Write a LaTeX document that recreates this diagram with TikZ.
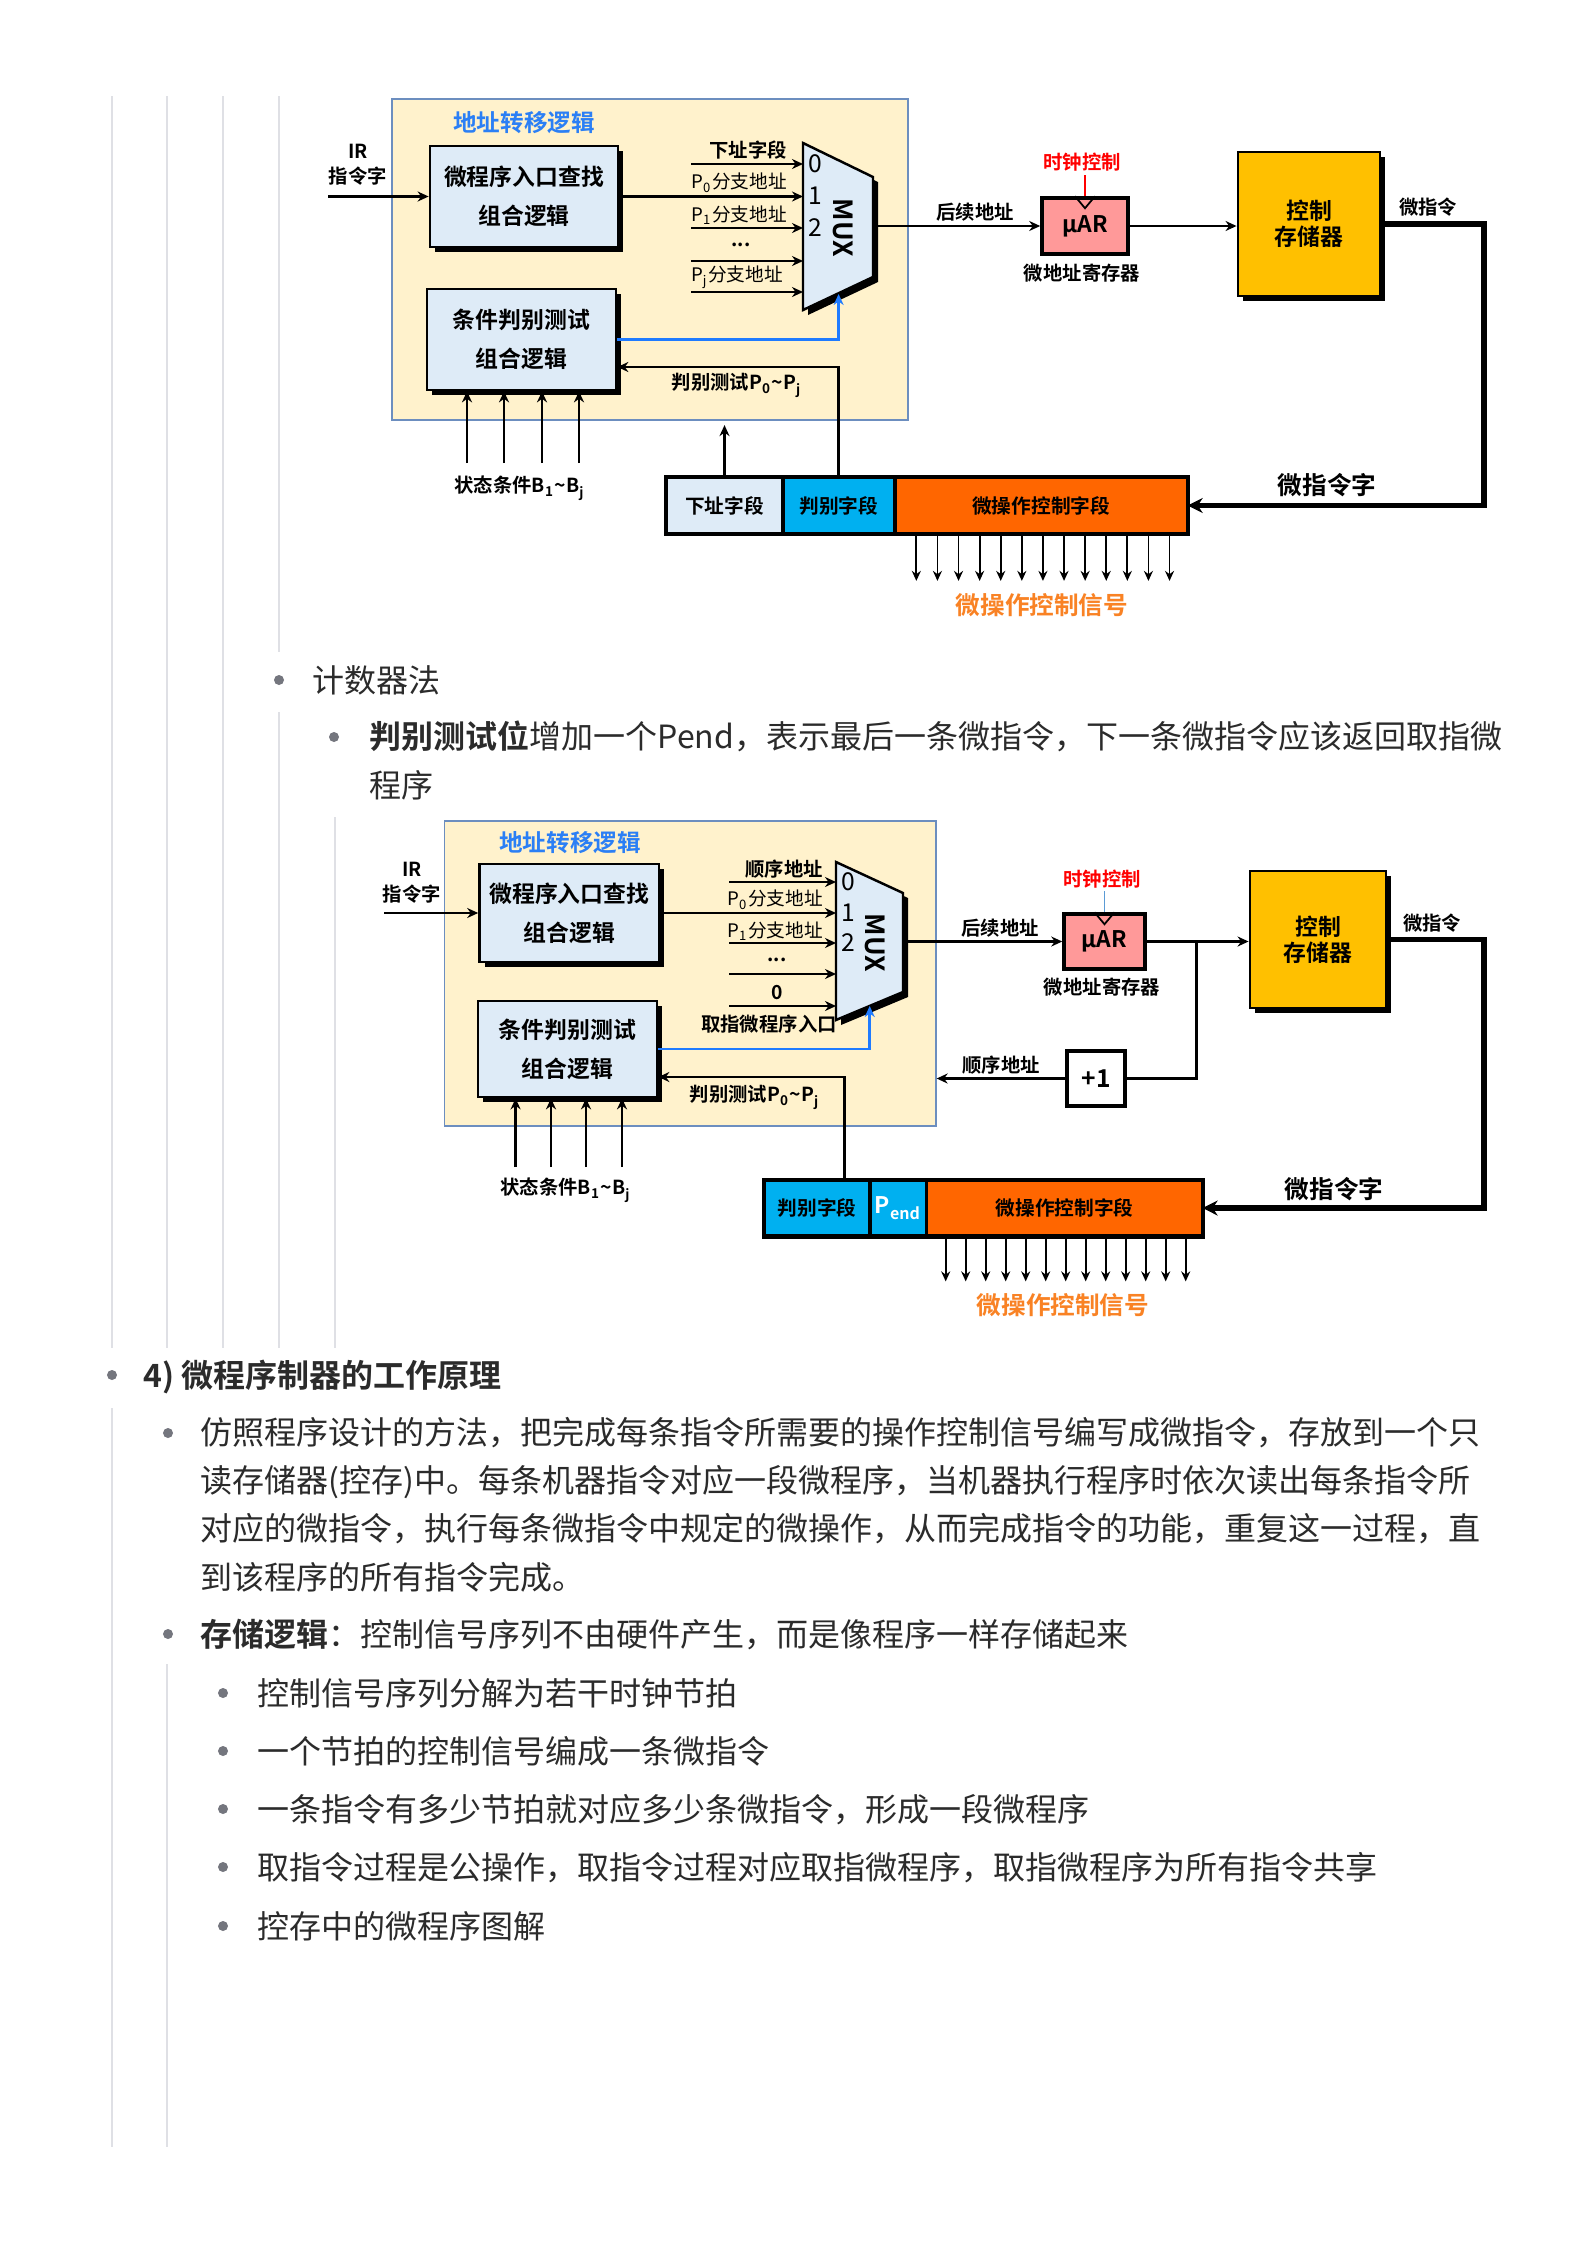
\documentclass[tikz,border=0pt]{standalone}
\usepackage{fontspec}
\setmainfont{Noto Sans CJK SC}[BoldFont={* Bold}]
\usetikzlibrary{arrows.meta,shadows}

\definecolor{addrbg}{HTML}{FFF2CC}
\definecolor{addrline}{HTML}{6C8EBF}
\definecolor{boxblue}{HTML}{DEEBF7}
\definecolor{titleblue}{HTML}{2B7FF5}
\definecolor{linkblue}{HTML}{1F7BFF}
\definecolor{clkblue}{HTML}{5B9BD5}
\definecolor{regpink}{HTML}{FF9999}
\definecolor{memgold}{HTML}{FFC000}
\definecolor{fieldcyan}{HTML}{00B0F0}
\definecolor{fieldorange}{HTML}{FF6600}
\definecolor{sigorange}{HTML}{F98224}
\definecolor{guidegray}{HTML}{DFE0E5}
\definecolor{dotgray}{HTML}{74767E}
\definecolor{bodytext}{HTML}{2B2B2B}

\tikzset{
    guide/.style={draw=guidegray, line width=0.85pt},
    body/.style={anchor=base west, align=left, inner sep=0pt, text=bodytext,
        font=\fontsize{9.1}{13.66}\selectfont},
    addr/.style={draw=addrline, line width=0.4pt, fill=addrbg, inner sep=0pt},
    addrtitle/.style={text=titleblue, inner sep=0pt,
        font=\bfseries\fontsize{6.7}{6.7}\selectfont},
    shade/.style={drop shadow={shadow xshift=0.5mm, shadow yshift=-0.5mm,
        fill=black, opacity=1}},
    logicbox/.style={draw, line width=0.75pt, fill=boxblue, align=center,
        inner sep=0pt, shade, font=\bfseries\fontsize{6.5}{11}\selectfont},
    lab/.style={inner sep=0pt, align=center, font=\bfseries\fontsize{5.5}{7.1}\selectfont},
    plab/.style={inner sep=0pt, font=\fontsize{5.3}{5.3}\selectfont},
    digit/.style={inner sep=0pt, font=\fontsize{7}{7}\selectfont},
    muxlab/.style={inner sep=0pt, rotate=-90, font=\bfseries\fontsize{7.5}{7.5}\selectfont},
    reg/.style={draw, line width=1pt, fill=regpink, inner sep=0pt,
        font=\bfseries\fontsize{6.5}{6.5}\selectfont},
    mem/.style={draw, line width=0.8pt, fill=memgold, align=center, inner sep=0pt,
        shade, font=\bfseries\fontsize{6.5}{7.4}\selectfont},
    field/.style={draw, line width=0.5pt, minimum height=0.55cm, inner sep=0pt,
        font=\bfseries\fontsize{5.6}{5.6}\selectfont},
    clklab/.style={text=red, inner sep=0pt, font=\bfseries\fontsize{5.5}{5.5}\selectfont},
    biglab/.style={inner sep=0pt, font=\bfseries\fontsize{7}{7}\selectfont},
    siglab/.style={text=sigorange, inner sep=0pt, font=\bfseries\fontsize{7}{7}\selectfont},
    arr/.style={line width=0.75pt, -{Stealth[length=1.1mm, width=1mm]}},
    barr/.style={arr, draw=linkblue},
    bigarr/.style={line width=1.5pt, -{Stealth[length=1.5mm, width=1.5mm]}},
    sig/.style={line width=0.5pt, -{Stealth[length=1mm, width=0.9mm]}},
}

\begin{document}
\begin{tikzpicture}[x=0.01cm, y=-0.01cm]
    \fill[white] (0,0) rectangle (1586,2245);
    \useasboundingbox (0,0) rectangle (1586,2245);

    % list guide lines
    \foreach \x in {112,167,223} \draw[guide] (\x,96) -- (\x,1348);
    \draw[guide] (279,96) -- (279,652);
    \draw[guide] (279,712) -- (279,1348);
    \draw[guide] (335,817) -- (335,1348);
    \draw[guide] (112,1408) -- (112,2147);
    \draw[guide] (167,1664) -- (167,2147);

    %%%%%%%%%%%%%%%% first diagram
    \node[addr, minimum width=5.16cm, minimum height=3.21cm] (addr1) at (650,259.5) {};
    \node[addrtitle] (ttl1) at (524,123) {地址转移逻辑};
    \node[logicbox, minimum width=1.88cm, minimum height=1.01cm] (entry1) at (524,196.5)
        {微程序入口查找\\组合逻辑};
    \node[logicbox, minimum width=1.89cm, minimum height=1.01cm] (cond1) at (521.5,339.5)
        {条件判别测试\\组合逻辑};
    \node[lab] (ir1) at (358,165) {IR\\指令字};
    \coordinate (irin1) at (328,196.5);
    \draw[arr] (irin1) -- (entry1.west);

    % mux
    \fill[black] (808,148) -- (878,182) -- (878,282) -- (808,315) -- cycle;
    \draw[fill=boxblue, line width=0.7pt] (803,143) coordinate (mux1nw) -- (873,177)
        -- (873,277) coordinate (mux1se) -- (803,310) -- cycle;
    \foreach \d/\y in {0/164,1/196,2/228}
        \node[digit] (mux1d\d) at (815,\y) {\d};
    \node[muxlab] (mux1lab) at (843,228) {MUX};

    \foreach \y [count=\k] in {164,228,261,292} {
        \coordinate (src1-\k) at (691,\y);
        \draw[arr] (src1-\k) -- (src1-\k -| mux1nw);
    }
    \draw[arr] (entry1.east) -- (entry1.east -| mux1nw);
    \node[lab] (nxt1) at (748,150) {下址字段};
    \node[plab] (p0a1) at (739,183) {P\textsubscript{0}分支地址};
    \node[plab] (p1a1) at (739,215) {P\textsubscript{1}分支地址};
    \node[lab] (dots1) at (741,245) {...};
    \node[plab] (pja1) at (737,277) {P\textsubscript{j}分支地址};

    \coordinate (sel1) at (838.6,294);
    \draw[barr] (cond1.east) -| (sel1);

    % micro address register
    \node[reg, minimum width=0.86cm, minimum height=0.56cm] (mar1) at (1085,226) {µAR};
    \node[clklab] (clk1) at (1082,162) {时钟控制};
    \draw[red, line width=0.5pt] (mar1.north) -- ++(0,-21);
    \draw[line width=0.5pt] ([xshift=-1mm]mar1.north) -- ([yshift=-1.2mm]mar1.north)
        -- ([xshift=1mm]mar1.north);
    \draw[arr] (mar1.west -| mux1se) -- (mar1.west);
    \node[lab] (succ1) at (975,212) {后续地址};
    \node[lab] (marname1) at (1082,273) {微地址寄存器};

    \node[mem, minimum width=1.42cm, minimum height=1.44cm] (cm1) at (1309,224) {控制\\存储器};
    \draw[arr] (mar1.east) -- (mar1.east -| cm1.west);
    \node[lab] (mi1) at (1428,207) {微指令};

    % microinstruction word
    \node[field, fill=boxblue, minimum width=1.15cm] (next1) at (724.5,505.5) {下址字段};
    \node[field, fill=fieldcyan, minimum width=1.10cm, anchor=west] (judge1) at (next1.east) {判别字段};
    \node[field, fill=fieldorange, minimum width=2.91cm, anchor=west] (ctrl1) at (judge1.east) {微操作控制字段};
    \draw[line width=1.2pt] (next1.north west) rectangle (ctrl1.south east);

    \coordinate (loop1) at (1484,0);
    \draw[bigarr] (cm1.east) -| (loop1 |- ctrl1.east) -- (ctrl1.east);
    \node[biglab] (miw1) at (1327,485) {微指令字};

    \draw[arr] (next1.north) -- ++(0,-52);
    \coordinate (jt1) at (838.7,367);
    \draw[arr] (jt1 |- judge1.north) |- (cond1.east |- jt1);
    \node[lab] (test1) at (737,385) {判别测试P\textsubscript{0}\textasciitilde P\textsubscript{j}};

    \foreach \x in {467,504,542,579}
        \draw[arr] (\x,463) -- (\x,463 |- cond1.south);
    \node[lab] (stat1) at (520,488) {状态条件B\textsubscript{1}\textasciitilde B\textsubscript{j}};

    \foreach \i in {0,...,12}
        \draw[sig] (ctrl1.south west) ++(21.6+21.1*\i,0) -- ++(0,47);
    \node[siglab] (sig1) at (1042,605) {微操作控制信号};

    %%%%%%%%%%%%%%%% list text
    \fill[dotgray] (279,680) circle (0.5mm);
    \node[body] (cnt) at (312,692) {计数器法};
    \fill[dotgray] (334,737) circle (0.5mm);
    % base anchor of a multi-line node sits on its last line
    \node[body] (pend) at (369,797)
        {\textbf{判别测试位}增加一个Pend，表示最后一条微指令，下一条微指令应该返回取指微\\程序};

    %%%%%%%%%%%%%%%% second diagram
    \node[addr, minimum width=4.91cm, minimum height=3.05cm] (addr2) at (690.3,973.4) {};
    \node[addrtitle] (ttl2) at (570,843) {地址转移逻辑};
    \node[logicbox, minimum width=1.795cm, minimum height=0.98cm] (entry2) at (569.3,913)
        {微程序入口查找\\组合逻辑};
    \node[logicbox, minimum width=1.79cm, minimum height=0.96cm] (cond2) at (567.5,1049)
        {条件判别测试\\组合逻辑};
    \node[lab] (ir2) at (412,883) {IR\\指令字};
    \coordinate (irin2) at (384,913);
    \draw[arr] (irin2) -- (entry2.west);

    % mux
    \fill[black] (841,867) -- (908,898) -- (908,997) -- (841,1025) -- cycle;
    \draw[fill=boxblue, line width=0.7pt] (836,862) coordinate (mux2nw) -- (903,893)
        -- (903,992) coordinate (mux2se) -- (836,1020) -- cycle;
    \foreach \d/\y in {0/882,1/913,2/943}
        \node[digit] (mux2d\d) at (848,\y) {\d};
    \node[muxlab] (mux2lab) at (875,943) {MUX};

    \foreach \y [count=\k] in {882,943,974,1006} {
        \coordinate (src2-\k) at (729,\y);
        \draw[arr] (src2-\k) -- (src2-\k -| mux2nw);
    }
    \draw[arr] (entry2.east) -- (entry2.east -| mux2nw);
    \node[lab] (seq2) at (784,869) {顺序地址};
    \node[plab] (p0a2) at (775,900) {P\textsubscript{0}分支地址};
    \node[plab] (p1a2) at (775,931) {P\textsubscript{1}分支地址};
    \node[lab] (dots2) at (777,960) {...};
    \node[lab] (zero2) at (777,993) {0};
    \node[lab] (fetch2) at (769,1024) {取指微程序入口};

    \coordinate (sel2) at (869.7,1006);
    \draw[barr] (cond2.east) -| (sel2);

    % micro address register
    \node[reg, minimum width=0.81cm, minimum height=0.55cm] (mar2) at (1104.5,941.5) {µAR};
    \node[clklab] (clk2) at (1102,879) {时钟控制};
    \draw[clkblue, line width=0.5pt] (mar2.north) -- ++(0,-21);
    \draw[line width=0.5pt] ([xshift=-1mm]mar2.north) -- ([yshift=-1.2mm]mar2.north)
        -- ([xshift=1mm]mar2.north);
    \draw[arr] (mar2.west -| mux2se) -- (mar2.west);
    \node[lab] (succ2) at (1000,928) {后续地址};
    \node[lab] (marname2) at (1102,987) {微地址寄存器};

    \node[mem, minimum width=1.36cm, minimum height=1.37cm] (cm2) at (1318,939.5) {控制\\存储器};
    \draw[arr] (mar2.east) -- (mar2.east -| cm2.west);
    \node[lab] (mi2) at (1432,923) {微指令};

    % +1 loop
    \node[draw, line width=0.9pt, fill=white, minimum width=0.58cm, minimum height=0.55cm,
        inner sep=0pt, font=\bfseries\fontsize{7}{7}\selectfont] (inc2) at (1096,1078.5) {+1};
    \coordinate (tap2) at (1196.6,0);
    \draw[line width=0.75pt] (tap2 |- mar2.east) |- (inc2.east);
    \draw[arr] (inc2.west) -- (inc2.west -| addr2.east);
    \node[lab] (seq2b) at (1001,1065) {顺序地址};

    % microinstruction word
    \node[field, fill=fieldcyan, minimum width=1.04cm] (judge2) at (817,1208) {判别字段};
    \node[field, fill=fieldcyan, minimum width=0.55cm, anchor=west, text=white] (pend2) at (judge2.east)
        {\fontsize{6.5}{6.5}\selectfont P\textsubscript{end}};
    \node[field, fill=fieldorange, minimum width=2.74cm, anchor=west] (ctrl2) at (pend2.east) {微操作控制字段};
    \draw[line width=1.2pt] (judge2.north west) rectangle (ctrl2.south east);

    \coordinate (loop2) at (1484,0);
    \draw[bigarr] (cm2.east) -| (loop2 |- ctrl2.east) -- (ctrl2.east);
    \node[biglab] (miw2) at (1334,1189) {微指令字};

    \coordinate (jt2) at (844.6,1077);
    \draw[arr] (jt2 |- judge2.north) |- (cond2.east |- jt2);
    \node[lab] (test2) at (755,1097) {判别测试P\textsubscript{0}\textasciitilde P\textsubscript{j}};

    \foreach \x in {515.6,551,586,622}
        \draw[arr] (\x,1167) -- (\x,1167 |- cond2.south);
    \node[lab] (stat2) at (566,1190) {状态条件B\textsubscript{1}\textasciitilde B\textsubscript{j}};

    \foreach \i in {0,...,12}
        \draw[sig] (ctrl2.south west) ++(19+20*\i,0) -- ++(0,45);
    \node[siglab] (sig2) at (1063,1305) {微操作控制信号};

    %%%%%%%%%%%%%%%% section 4
    \fill[dotgray] (112,1375) circle (0.5mm);
    \node[body, font=\bfseries\fontsize{9.1}{13.66}\selectfont] (sec4) at (143,1387) {4) 微程序制器的工作原理};
    \fill[dotgray] (168,1433) circle (0.5mm);
    \node[body] (para) at (200,1589)
        {仿照程序设计的方法，把完成每条指令所需要的操作控制信号编写成微指令，存放到一个只\\
         读存储器(控存)中。每条机器指令对应一段微程序，当机器执行程序时依次读出每条指令所\\
         对应的微指令，执行每条微指令中规定的微操作，从而完成指令的功能，重复这一过程，直\\
         到该程序的所有指令完成。};
    \fill[dotgray] (168,1634) circle (0.5mm);
    \node[body] (store) at (200,1646) {\textbf{存储逻辑}：控制信号序列不由硬件产生，而是像程序一样存储起来};

    \foreach \y/\t [count=\k] in {1693/控制信号序列分解为若干时钟节拍,
                                  1751/一个节拍的控制信号编成一条微指令,
                                  1809/一条指令有多少节拍就对应多少条微指令，形成一段微程序,
                                  1867/取指令过程是公操作，取指令过程对应取指微程序，取指微程序为所有指令共享,
                                  1926/控存中的微程序图解} {
        \fill[dotgray] (223,\y) circle (0.5mm);
        \node[body] (item\k) at (257,\y+12) {\t};
    }
\end{tikzpicture}
\end{document}
